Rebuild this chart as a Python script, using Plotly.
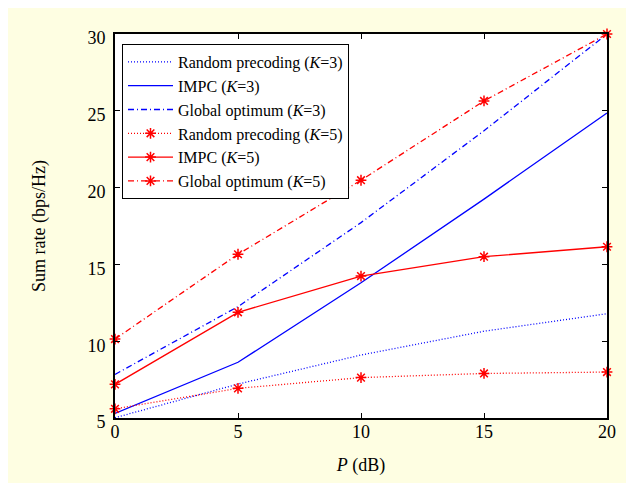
import plotly.graph_objects as go

# Data
x_db = [0, 5, 10, 15, 20]
rand_k3 = [5.02, 7.21, 9.10, 10.65, 11.79]
impc_k3 = [5.30, 8.63, 13.80, 19.25, 24.86]
glob_k3 = [7.84, 12.25, 17.72, 23.70, 30.00]
rand_k5 = [5.60, 6.93, 7.63, 7.90, 7.99]
impc_k5 = [7.19, 11.88, 14.24, 15.50, 16.15]
glob_k5 = [10.14, 15.66, 20.48, 25.64, 30.00]

x_ticks = [0, 5, 10, 15, 20]
y_ticks = [5, 10, 15, 20, 25, 30]

BLUE = "#0000FF"
RED = "#FF0000"
DOT = "1px,2px"
DASHDOT = "6px,3px,1px,3px"
FONT = "Liberation Serif"

series = [
    ("Random precoding (<i>K</i>=3)", rand_k3, BLUE, DOT, False),
    ("IMPC (<i>K</i>=3)", impc_k3, BLUE, "solid", False),
    ("Global optimum (<i>K</i>=3)", glob_k3, BLUE, DASHDOT, False),
    ("Random precoding (<i>K</i>=5)", rand_k5, RED, DOT, True),
    ("IMPC (<i>K</i>=5)", impc_k5, RED, "solid", True),
    ("Global optimum (<i>K</i>=5)", glob_k5, RED, DASHDOT, True),
]

fig = go.Figure()
for name, ys, col, dash, mk in series:
    fig.add_trace(go.Scatter(
        x=x_db, y=ys, name=name,
        mode="lines+markers" if mk else "lines",
        line=dict(color=col, width=1.3, dash=dash),
        marker=dict(symbol="asterisk-open", size=9,
                    line=dict(color=col, width=1.5)) if mk else None,
        cliponaxis=False,
    ))

L, R, T, B = 107, 35, 26, 73
W, H = 634, 483
pw, ph = W - L - R, H - T - B

fig.update_layout(
    width=W, height=H,
    margin=dict(l=L, r=R, t=T, b=B, pad=0),
    paper_bgcolor="#FEFEE2",
    plot_bgcolor="white",
    font=dict(family=FONT, size=18, color="black"),
    showlegend=True,
    legend=dict(
        x=7 / pw, y=1 - 10 / ph,
        xanchor="left", yanchor="top",
        bgcolor="white", bordercolor="black", borderwidth=1,
        font=dict(family=FONT, size=16, color="black"),
        itemwidth=45, tracegroupgap=0,
    ),
    xaxis=dict(
        range=[0, 20], tickvals=x_ticks, ticks="inside", ticklen=5,
        showline=True, linecolor="black", linewidth=2, mirror="ticks",
        showgrid=False, zeroline=False, tickcolor="black",
        title=dict(text="<i>P</i> (dB)", font=dict(size=18), standoff=18),
        ticklabelstandoff=-4, automargin=False,
    ),
    yaxis=dict(
        range=[5, 30], tickvals=y_ticks, ticks="inside", ticklen=5,
        showline=True, linecolor="black", linewidth=2, mirror="ticks",
        showgrid=False, zeroline=False, tickcolor="black",
        title=dict(text="Sum rate (bps/Hz)", font=dict(size=18), standoff=37),
        ticklabelshift=4, ticklabelstandoff=4, automargin=False,
    ),
)

fig.write_html("out.html")
